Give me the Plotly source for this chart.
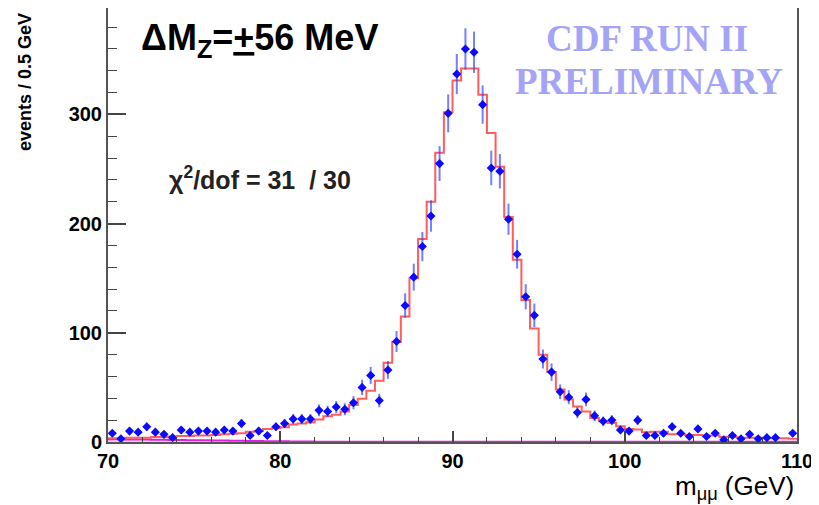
import numpy as np
import plotly.graph_objects as go

# m_mumu spectrum, 80 bins of 0.5 GeV between 70 and 110 GeV
BIN_LOW = 70.0
BIN_WIDTH = 0.5

data_counts = [
    8, 3, 10, 9, 14, 9, 7, 4, 11, 9,
    10, 10, 9, 11, 10, 17, 6, 10, 6, 14,
    17, 21, 21, 21, 29, 28, 32, 30, 36, 50,
    61, 38, 66, 92, 125, 151, 179, 207, 255, 301,
    337, 360, 357, 309, 251, 248, 204, 172, 133, 116,
    76, 64, 46, 41, 27, 39, 24, 19, 20, 11,
    10, 20, 6, 6, 8, 14, 8, 5, 12, 5,
    8, 2, 6, 3, 7, 3, 4, 4, None, 8,
]

model_counts = [
    3.5, 3.5, 4, 4, 4, 4.5, 4.5, 5, 5.5, 5.5,
    6, 6, 6.5, 7, 7.5, 8, 9.5, 10, 12, 12.5,
    13.5, 16, 17, 18, 20.5, 23.5, 25, 28, 34, 39.5,
    47, 56, 72.5, 91.5, 115, 150, 186, 220, 265, 302,
    331, 342, 342, 318, 283, 252, 206, 167, 130, 104,
    80, 64, 48, 39, 32.5, 28, 22, 19, 17.5, 14.5,
    12, 11.5, 9, 9.5, 9.5, 7, 7, 6.5, 6.5, 6,
    6, 4.5, 4.5, 4, 4, 4, 3.5, 3.5, 3.5, 3,
]

background_counts = [
    2.6, 2.5, 2.4, 2.3, 2.2, 2.1, 2.0, 1.9, 1.8, 1.7,
    1.6, 1.5, 1.4, 1.3, 1.2, 1.1, 1.0, 0.9, 0.8, 0.7,
    0.6, 0.5, 0.4, 0.4, 0.3, 0.3, 0.3, 0.3, 0.3, 0.3,
] + [0.3] * 50

x_ticks = [70, 80, 90, 100, 110]
y_ticks = [0, 100, 200, 300]

n_bins = len(data_counts)
edges = BIN_LOW + BIN_WIDTH * np.arange(n_bins + 1)
centers = edges[:-1] + BIN_WIDTH / 2

data_err = [np.sqrt(v) if v else 0 for v in data_counts]

# page is 819 x 505, the html body adds an 8px margin before the figure
OFFSET = 8
W, H = 819 - OFFSET, 505 - OFFSET
# plot box in page pixels
PX_L, PX_R, PX_T, PX_B = 108, 797.5, 8, 442.5


def px(x):
    return (x - PX_L) / (PX_R - PX_L)


def py(y):
    return (PX_B - y) / (PX_B - PX_T)


fig = go.Figure()

# background contribution
fig.add_trace(go.Scatter(
    x=list(edges), y=background_counts + [background_counts[-1]],
    mode='lines', line_shape='hv',
    line=dict(color='#e020e0', width=2),
    fill='tozeroy', fillcolor='rgba(255, 120, 255, 0.35)',
    hoverinfo='skip',
))

# fit / template histogram
fig.add_trace(go.Scatter(
    x=list(edges), y=model_counts + [model_counts[-1]],
    mode='lines', line_shape='hv',
    line=dict(color='#ff5c5c', width=2),
))

# data points
fig.add_trace(go.Scatter(
    x=centers, y=data_counts,
    mode='markers',
    marker=dict(symbol='diamond', size=7, color='#0a0aff'),
    error_y=dict(type='data', array=data_err, color='rgba(40, 60, 255, 0.65)',
                 thickness=2, width=0),
    error_x=dict(type='constant', value=0.18, color='#0a0aff', thickness=2, width=0),
))

tick_font = dict(family='Liberation Sans, Arial', size=20, color='black', weight='bold')

fig.update_layout(
    width=W, height=H,
    margin=dict(l=PX_L - OFFSET, r=819 - PX_R, t=PX_T - OFFSET, b=505 - PX_B,
                autoexpand=False),
    paper_bgcolor='white',
    plot_bgcolor='white',
    showlegend=False,
    xaxis=dict(
        range=[70, 110], tickvals=x_ticks, ticktext=[str(t) for t in x_ticks],
        ticks='inside', ticklen=11, tickwidth=1.5, tickcolor='#444',
        minor=dict(dtick=2, ticks='inside', ticklen=5, tickcolor='#444', tickwidth=1),
        showgrid=False, zeroline=False,
        showline=True, linecolor='#555', linewidth=2, mirror=True,
        tickfont=tick_font,
    ),
    yaxis=dict(
        range=[0, 397.5], tickvals=y_ticks, ticktext=[str(t) for t in y_ticks],
        ticks='inside', ticklen=18, tickwidth=1.5, tickcolor='#444',
        minor=dict(dtick=20, ticks='inside', ticklen=9, tickcolor='#444', tickwidth=1),
        showgrid=False, zeroline=False,
        showline=True, linecolor='#555', linewidth=2, mirror=True,
        tickfont=tick_font,
    ),
)

annotations = [
    dict(text='ΔM<sub>Z</sub>=<u>+</u>56 MeV', x=px(260), y=py(40),
         font=dict(family='Liberation Sans, Arial', size=36, color='black', weight='bold')),
    dict(text='CDF RUN II', x=px(647), y=py(39),
         font=dict(family='Liberation Serif, Times New Roman', size=37, color='#a3a3f7',
                   weight='bold')),
    dict(text='PRELIMINARY', x=px(649), y=py(82),
         font=dict(family='Liberation Serif, Times New Roman', size=37, color='#a3a3f7',
                   weight='bold')),
    dict(text='χ<sup>2</sup>/dof = 31  / 30', x=px(260), y=py(178),
         font=dict(family='Liberation Sans, Arial', size=25, color='#222', weight='bold')),
    dict(text='m<sub>μμ</sub> (GeV)', x=px(796), y=py(488), xanchor='right',
         font=dict(family='Liberation Sans, Arial', size=26, color='black')),
    dict(text='events / 0.5 GeV', x=px(25), y=py(82), textangle=-90,
         font=dict(family='Liberation Sans, Arial', size=18, color='black', weight='bold')),
]
for a in annotations:
    a.setdefault('xanchor', 'center')
    a.update(xref='paper', yref='paper', yanchor='middle', showarrow=False)
fig.update_layout(annotations=annotations)

fig.write_html('out.html')
